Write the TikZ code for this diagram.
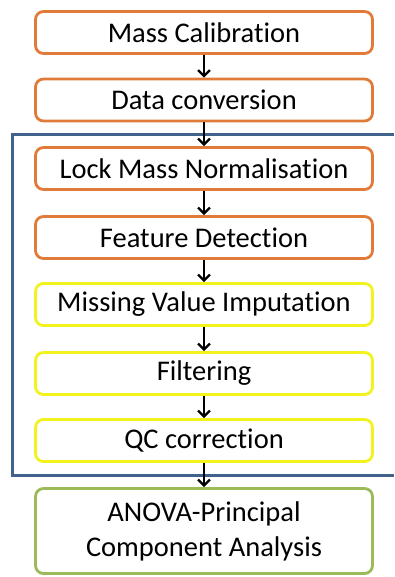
\documentclass[tikz,border=0pt]{standalone}
\usepackage{fontspec}
\setmainfont[Ligatures=NoCommon]{Carlito}
\usetikzlibrary{arrows.meta}
\definecolor{borange}{HTML}{E07B39}
\definecolor{byellow}{HTML}{F2F21C}
\definecolor{bgreen}{HTML}{9BBB59}
\definecolor{bblue}{HTML}{41628A}
\begin{document}
\begin{tikzpicture}[x=1pt,y=1pt,
  stepbox/.style={draw, line width=2.8pt, rounded corners=8pt, fill=white,
    minimum width=337pt, minimum height=42pt, inner sep=0pt,
    font=\fontsize{28.5}{35}\selectfont, align=center},
  obox/.style={stepbox, draw=borange},
  ybox/.style={stepbox, draw=byellow},
  gbox/.style={stepbox, draw=bgreen, minimum height=85pt},
  flow/.style={draw=black, line width=2.2pt, -{Straight Barb[length=6pt,width=12pt,line width=2.2pt]}}
]
\useasboundingbox (0,0) rectangle (394,-577);
\draw[bblue, line width=3pt] (394,-135) -- (12,-135) -- (12,-475) -- (394,-475);
\node[obox] (a) at (204,-32.5) {Mass Calibration};
\node[obox] (b) at (204,-100) {Data conversion};
\node[obox] (c) at (204,-168.5) {Lock Mass Normalisation};
\node[obox] (d) at (204,-237.5) {Feature Detection};
\node[ybox] (e) at (204,-304.5) {Missing Value Imputation};
\node[ybox] (f) at (204,-373.5) {Filtering};
\node[ybox] (g) at (204,-440.5) {QC correction};
\node[gbox] (h) at (204,-531) {ANOVA-Principal\\Component Analysis};
\foreach \u/\v in {a/b,b/c,c/d,d/e,e/f,f/g,g/h}
  \draw[flow] (\u.south) -- (\v.north);
\end{tikzpicture}
\end{document}
